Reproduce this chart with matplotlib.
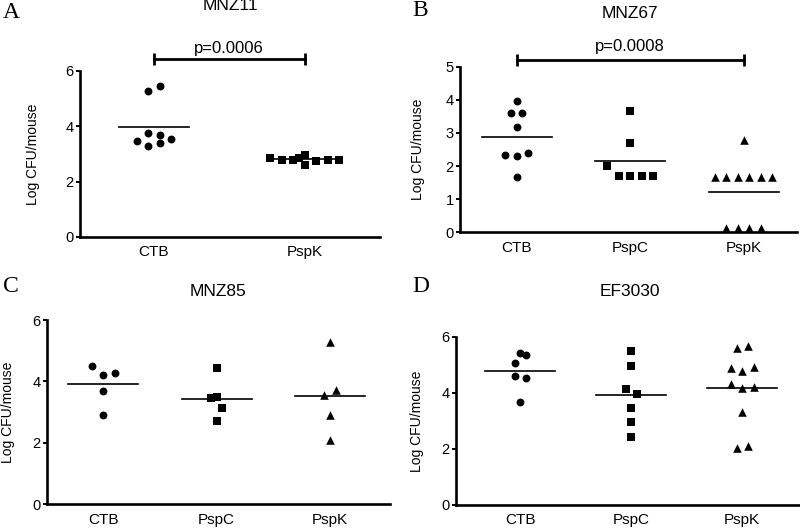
import numpy as np
import matplotlib.pyplot as plt

plt.rcParams['font.family'] = ['Liberation Sans', 'DejaVu Sans']

W, H, DPI = 800, 528, 100

# A - MNZ11
a_groups = ["CTB", "PspK"]
a_ctb = [5.28, 5.44, 3.47, 3.77, 3.69, 3.54, 3.29, 3.40]
a_ctb_slot = [-0.5, 0.5, -1.5, -0.5, 0.5, 1.5, -0.5, 0.5]
a_pspk = [2.86, 2.80, 2.77, 2.87, 2.98, 2.62, 2.74, 2.78, 2.80]
a_pspk_slot = [-3, -2, -1, -0.5, 0, 0, 1, 2, 3]

# B - MNZ67
b_groups = ["CTB", "PspC", "PspK"]
b_ctb = [3.97, 3.60, 3.60, 3.18, 2.34, 2.29, 2.39, 1.68]
b_ctb_slot = [0, -0.5, 0.5, 0, -1, 0, 1, 0]
b_pspc = [3.65, 2.71, 2.00, 1.70, 1.70, 1.70, 1.70]
b_pspc_slot = [0, 0, -2, -1, 0, 1, 2]
b_pspk = [2.79, 1.68, 1.68, 1.68, 1.68, 1.68, 1.68, 0.14, 0.14, 0.14, 0.14]
b_pspk_slot = [0, -2.5, -1.5, -0.5, 0.5, 1.5, 2.5, -1.5, -0.5, 0.5, 1.5]

# C - MNZ85
c_groups = ["CTB", "PspC", "PspK"]
c_ctb = [4.49, 4.20, 4.29, 3.70, 2.91]
c_ctb_slot = [-1, 0, 1, 0, 0]
c_pspc = [4.44, 3.45, 3.50, 3.13, 2.70]
c_pspc_slot = [0, -0.5, 0, 0.5, 0]
c_pspk = [5.30, 3.57, 3.71, 2.91, 2.08]
c_pspk_slot = [0, -0.5, 0.5, 0, 0]

# D - EF3030
d_groups = ["CTB", "PspC", "PspK"]
d_ctb = [5.44, 5.36, 5.06, 4.62, 4.55, 3.69]
d_ctb_slot = [0, 0.5, -0.5, -0.5, 0.5, 0]
d_pspc = [5.50, 4.96, 4.16, 3.98, 3.47, 2.96, 2.43]
d_pspc_slot = [0, 0, -0.5, 0.5, 0, 0, 0]
d_pspk = [5.59, 5.68, 4.91, 4.79, 4.93, 4.31, 4.19, 4.22, 3.33, 2.02, 2.10]
d_pspk_slot = [-0.5, 0.5, -1, 0, 1, -1, 0, 1, 0, -0.5, 0.5]

MARKERS = ['o', 's', '^']
SIZES = {'o': 32, 's': 30, '^': 38}
SLOT_PX = 11.5
HALF_PX = 35


def make_ax(fig, left, top, right, bottom):
    return fig.add_axes([left / W, 1 - bottom / H, (right - left) / W, (bottom - top) / H])


def style_ax(ax, groups, ymax, yticks, xlim):
    ax.set_xlim(*xlim)
    ax.set_ylim(0, ymax)
    ax.set_xticks(range(len(groups)))
    ax.set_xticklabels(groups)
    ax.set_yticks(yticks)
    for s in ['top', 'right']:
        ax.spines[s].set_visible(False)
    for s in ['left', 'bottom']:
        ax.spines[s].set_linewidth(1.9)
    ax.tick_params(axis='y', direction='out', length=3, width=1.4, pad=1.5, labelsize=10.5)
    ax.tick_params(axis='x', length=0, pad=6, labelsize=11)
    ax.set_ylabel("Log CFU/mouse", fontsize=10)


def draw_panel(ax, data, slots, width_px):
    lo, hi = ax.get_xlim()
    px_per_unit = width_px / (hi - lo)
    for i, (vals, sl) in enumerate(zip(data, slots)):
        m = MARKERS[i] if len(data) == 3 else ['o', 's'][i]
        x = i + np.array(sl) * SLOT_PX / px_per_unit
        ax.scatter(x, vals, marker=m, s=SIZES[m], color='black',
                   linewidths=0, zorder=3, clip_on=False)
        mean = np.mean(vals)
        half = HALF_PX / px_per_unit
        ax.plot([i - half, i + half], [mean, mean], color='black', lw=1.2, zorder=2)


def bracket(ax, x0, x1, y, ytext, text):
    ax.plot([x0, x1], [y, y], color='black', lw=2, marker='|',
            markersize=9, mew=2, clip_on=False)
    ax.text((x0 + x1) / 2, ytext, text, ha='center', va='center', fontsize=12)


fig = plt.figure(figsize=(W / DPI, H / DPI), dpi=DPI)

# Panel A
axA = make_ax(fig, 80, 71, 380, 237)
style_ax(axA, a_groups, 6, [0, 2, 4, 6], (-0.49, 1.5))
draw_panel(axA, [a_ctb, a_pspk], [a_ctb_slot, a_pspk_slot], 300)
bracket(axA, 0, 1, 6.43, 6.83, "p=0.0006")
axA.yaxis.set_label_coords(-0.135, 0.5)

# Panel B
axB = make_ax(fig, 460, 66.7, 797, 232.3)
style_ax(axB, b_groups, 5, [0, 1, 2, 3, 4, 5], (-0.5, 2.47))
draw_panel(axB, [b_ctb, b_pspc, b_pspk], [b_ctb_slot, b_pspc_slot, b_pspk_slot], 337)
bracket(axB, 0, 2, 5.2, 5.6, "p=0.0008")
axB.yaxis.set_label_coords(-0.105, 0.5)

# Panel C
axC = make_ax(fig, 46.7, 320, 390, 504.3)
style_ax(axC, c_groups, 6, [0, 2, 4, 6], (-0.5, 2.53))
draw_panel(axC, [c_ctb, c_pspc, c_pspk], [c_ctb_slot, c_pspc_slot, c_pspk_slot], 343.3)
axC.yaxis.set_label_coords(-0.092, 0.5)

# Panel D
axD = make_ax(fig, 456, 337, 800, 505)
style_ax(axD, d_groups, 6, [0, 2, 4, 6], (-0.58, 2.52))
draw_panel(axD, [d_ctb, d_pspc, d_pspk], [d_ctb_slot, d_pspc_slot, d_pspk_slot], 344)
axD.yaxis.set_label_coords(-0.093, 0.5)

# titulos y letras
titles = [("MNZ11", 230, 6), ("MNZ67", 630, 14), ("MNZ85", 218, 291), ("EF3030", 630, 291)]
for t, x, y in titles:
    fig.text(x / W, 1 - y / H, t, ha='center', va='center', fontsize=12.5)

letters = [("A", 11, 13), ("B", 420, 11), ("C", 11, 287), ("D", 421, 287)]
for t, x, y in letters:
    fig.text(x / W, 1 - y / H, t, ha='center', va='center', fontsize=17,
             family=['Liberation Serif', 'DejaVu Serif'])

fig.savefig("out.png", dpi=DPI)
